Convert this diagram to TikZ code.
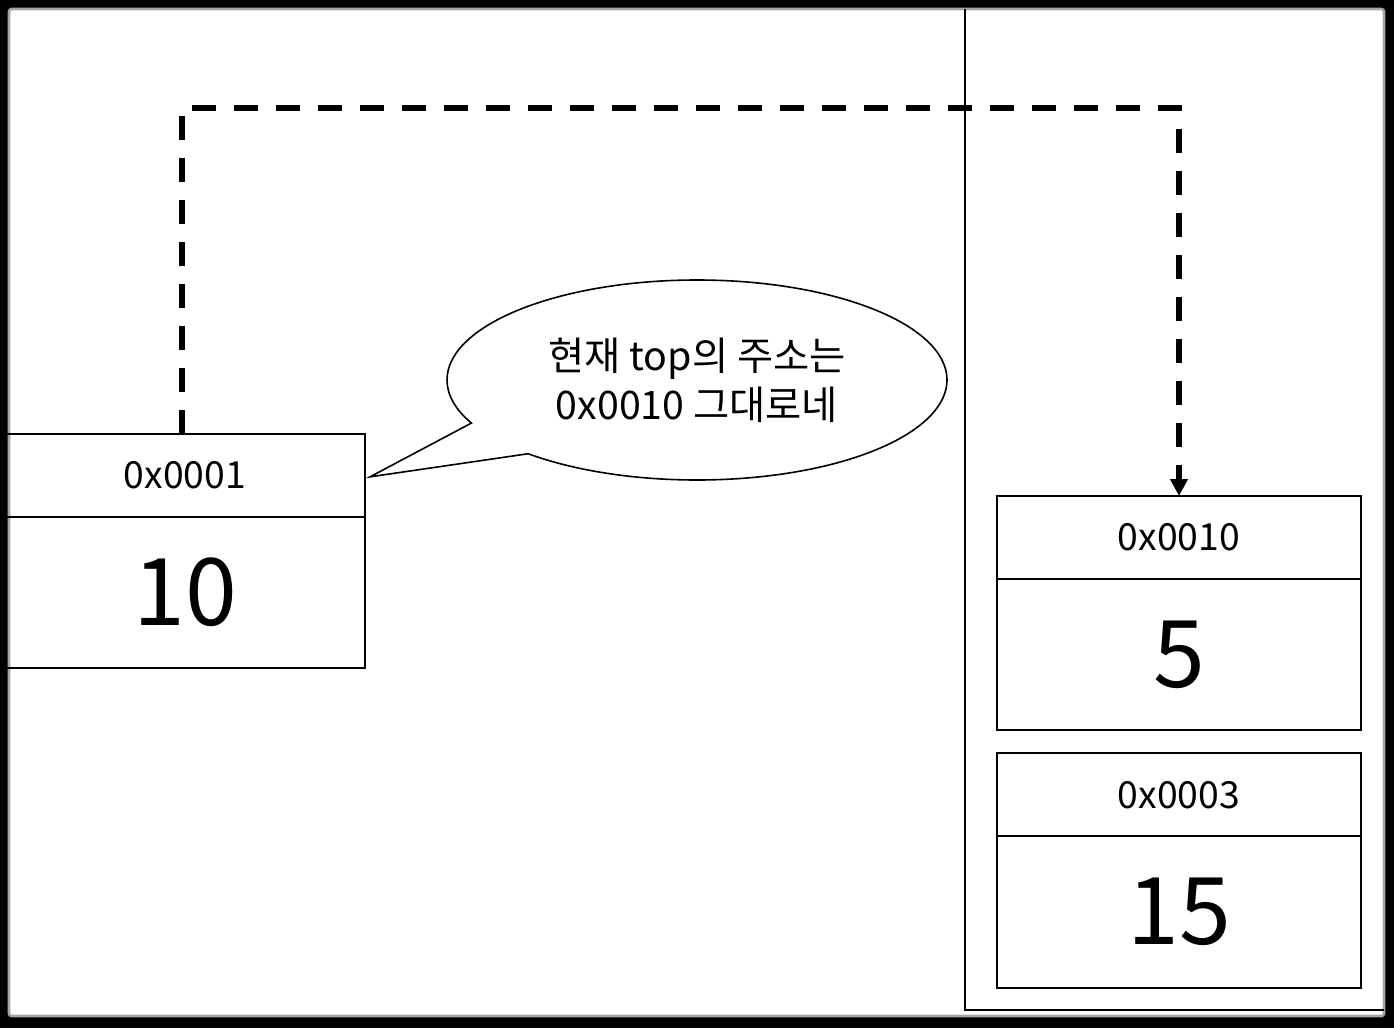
\documentclass[tikz,border=0pt]{standalone}
\usepackage{fontspec}
\setmainfont{Noto Sans CJK KR}
\usetikzlibrary{arrows.meta,positioning,shapes.callouts}

\begin{document}
\begin{tikzpicture}[x=0.75pt, y=-0.75pt, every node/.style={outer sep=0pt, inner sep=0pt},
  addr/.style={draw, line width=1.5pt, minimum height=62.25pt, font=\fontsize{28}{32}\selectfont},
  val/.style={draw, line width=1.5pt, minimum height=113.5pt, font=\fontsize{70}{80}\selectfont},
  bubble/.style={ellipse callout, draw, line width=1.2pt, fill=white, minimum width=375pt, minimum height=150pt,
    callout pointer arc=22, align=center, font=\fontsize{29.5}{36.5}\selectfont},
  ptr/.style={line width=4.5pt, dash pattern=on 18pt off 13.5pt, -{Triangle[length=12.75pt, width=12.75pt]}}]
\useasboundingbox (0,0) rectangle (1394,1028);
\fill[black] (0,0) rectangle (1394,1028);
\fill[white, draw=black!35, line width=2pt, rounded corners=2pt] (9,9) rectangle (1384,1016);
\draw[line width=1.5pt] (965,9) -- (965,1010) -- (1384,1010);

\node[addr, minimum width=270pt, anchor=north west] (addr1) at (5,434) {0x0001};
\node[val, minimum width=270pt, below=0pt of addr1] (val1) {10};
\node[addr, minimum width=273pt, anchor=north west] (addr2) at (997,496) {0x0010};
\node[val, minimum width=273pt, below=0pt of addr2] (val2) {5};
\node[addr, minimum width=273pt, below=17.25pt of val2] (addr3) {0x0003};
\node[val, minimum width=273pt, below=0pt of addr3] (val3) {15};

\coordinate (tip) at ([xshift=3.75pt, yshift=-1pt]addr1.east);
\coordinate (top) at (0,108);
\node[bubble, callout absolute pointer=(tip)] (note) at (697,380) {현재 top의 주소는\\0x0010 그대로네};

\draw[ptr] ([xshift=-2pt]addr1.north) -- ([xshift=-2pt]addr1.north |- top) -| (addr2.north);
\end{tikzpicture}
\end{document}
